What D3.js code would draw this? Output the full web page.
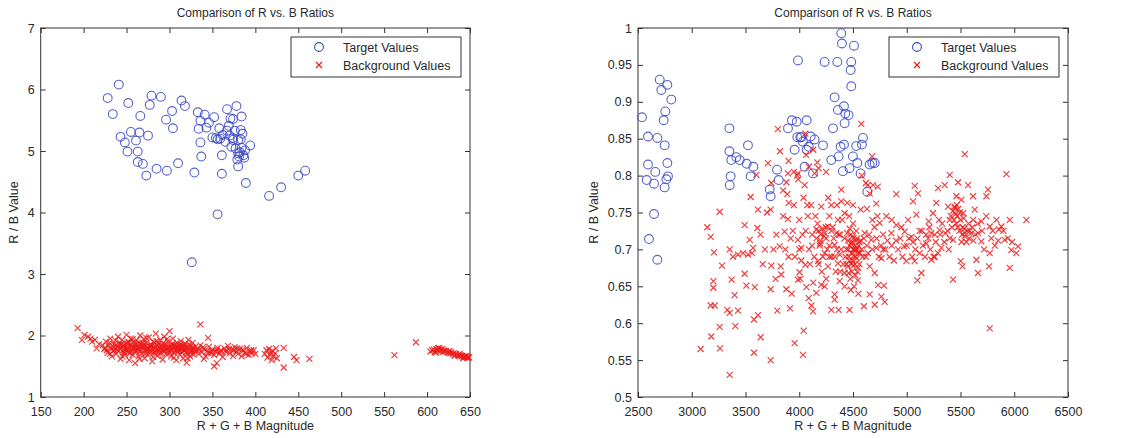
<!DOCTYPE html>
<html><head><meta charset="utf-8">
<script src="https://cdn.jsdelivr.net/npm/d3@7"></script>
<style>body{margin:0;background:#fff} text{font-family:"Liberation Sans",Arial,sans-serif}</style>
</head><body><svg id="c" width="1136" height="438"></svg>
<script>
const titleText = "Comparison of R vs. B Ratios";
const xLabelText = "R + G + B Magnitude";
const yLabelText = "R / B Value";
const legendLabels = ["Target Values", "Background Values"];

const leftXTicks = [150,200,250,300,350,400,450,500,550,600,650];
const leftYTicks = [1,2,3,4,5,6,7];
const rightXTicks = [2500,3000,3500,4000,4500,5000,5500,6000,6500];
const rightYTicks = [0.5,0.55,0.6,0.65,0.7,0.75,0.8,0.85,0.9,0.95,1];

const leftTarget = [[241,6.08],[228,5.86],[234,5.60],[252,5.78],[243,5.23],[248,5.14],[251,4.99],[255,5.31],[261,5.17],[265,5.30],[266,5.57],[263,4.99],[263,4.82],[269,4.79],[273,4.60],[275,5.25],[277,5.75],[279,5.90],[290,5.88],[285,4.71],[297,4.68],[296,5.51],[303,5.65],[304,5.37],[310,4.80],[314,5.82],[318,5.73],[329,4.65],[326,3.19],[333,5.63],[334,5.36],[336,5.49],[336,5.14],[337,4.91],[341,5.59],[343,5.38],[346,5.46],[352,5.55],[350,5.22],[356,3.97],[356,5.19],[358,5.37],[361,4.93],[361,4.63],[362,5.26],[365,5.15],[367,5.33],[369,5.41],[370,5.25],[372,5.07],[367,5.68],[374,5.52],[376,5.33],[378,5.73],[374,5.18],[377,5.04],[380,4.96],[379,4.86],[380,4.75],[383,5.34],[383,5.19],[384,5.05],[381,4.91],[384,5.56],[388,5.01],[389,4.48],[394,5.09],[416,4.27],[430,4.41],[450,4.60],[458,4.68],[371,5.53],[354,5.21],[359,5.20],[374,5.21],[380,5.18],[386,4.93],[385,5.28],[382,4.98],[387,4.89]];

const leftBackground = [[193,2.12],[201,2.01],[198,1.93],[205,1.98],[210,1.90],[213,1.93],[215,1.79],[218,1.86],[208,1.95],[336,2.18],[345,1.96],[352,1.50],[433,1.48],[433,1.80],[445,1.65],[448,1.60],[463,1.62],[562,1.68],[587,1.89],[355,1.55],[340,1.62],[400,1.70],[398,1.76],
[222,1.84],[224,1.78],[226,1.90],[228,1.72],[229,1.83],[231,1.95],[232,1.80],[233,1.66],[235,1.86],[236,1.76],[237,1.92],[238,1.70],[239,1.82],[240,1.98],[241,1.75],[242,1.88],[243,1.62],[244,1.80],[245,1.93],[246,1.73],[247,1.85],[248,1.68],[249,1.79],[250,2.01],[251,1.87],[252,1.74],[253,1.60],[254,1.83],[255,1.95],[256,1.77],[257,1.69],[258,1.89],[259,1.81],[260,1.55],[261,1.73],[262,1.92],[263,1.84],[264,1.66],[265,1.78],[266,2.00],[267,1.86],[268,1.71],[269,1.80],[270,1.94],[271,1.63],[272,1.76],[273,1.88],[274,1.82],[275,1.69],[276,1.97],[277,1.74],[278,1.85],[279,1.79],[280,1.58],[281,1.90],[282,1.72],[283,1.83],[284,2.03],[285,1.77],[286,1.67],[287,1.87],[288,1.80],[289,1.93],[290,1.73],[291,1.84],[292,1.61],[293,1.76],[294,1.98],[295,1.86],[296,1.70],[297,1.81],[298,1.90],[299,1.75],[300,2.07],[301,1.83],[302,1.66],[303,1.79],[304,1.95],[305,1.72],[306,1.85],[307,1.77],[308,1.60],[309,1.88],[310,1.74],[311,1.82],[312,1.69],[313,1.91],[314,1.78],[315,1.84],[316,1.63],[317,1.75],[318,1.87],[319,1.80],[320,1.56],[321,1.71],[322,1.93],[323,1.79],[324,1.66],[325,1.83],[326,1.74],[327,1.88],[328,1.69],[330,1.81],[332,1.76],[334,1.70],[336,1.84],[338,1.73],[340,1.78],[342,1.66],[344,1.75],[346,1.82],[348,1.71],[350,1.77],[352,1.68],[354,1.74],[356,1.80],[358,1.70],[360,1.76],[362,1.65],[364,1.79],[366,1.73],[368,1.83],[370,1.71],[372,1.77],[374,1.67],[376,1.81],[378,1.74],[380,1.70],[382,1.78],[384,1.66],[386,1.75],[388,1.72],[390,1.80],[392,1.68],[394,1.74],[396,1.71],
[225,1.80],[230,1.88],[234,1.75],[238,1.85],[242,1.79],[246,1.83],[250,1.76],[254,1.71],[258,1.78],[262,1.80],[266,1.74],[270,1.85],[274,1.76],[278,1.81],[282,1.79],[286,1.83],[290,1.78],[294,1.74],[298,1.79],[302,1.77],[306,1.80],[310,1.78],[314,1.73],[318,1.76],[322,1.80],[326,1.77],[329,1.74],[333,1.79],
[244,1.86],[252,1.90],[260,1.86],[268,1.83],[276,1.78],[284,1.74],[292,1.86],[300,1.80],[308,1.75],[316,1.79],[324,1.72],
[248,1.72],[256,1.82],[264,1.88],[272,1.70],[280,1.84],[288,1.75],[296,1.77],[304,1.84],[312,1.80],[320,1.82],[328,1.78],
[227,1.76],[231,1.70],[235,1.81],[239,1.77],[243,1.85],[247,1.78],[251,1.81],[255,1.74],[259,1.84],[263,1.77],[267,1.80],[271,1.82],[275,1.79],[279,1.74],[283,1.88],[287,1.78],[291,1.80],[295,1.82],[299,1.71],[303,1.86],[307,1.82],[311,1.76],[315,1.81],[319,1.72],[323,1.85],[327,1.81],[257,1.94],[265,1.62],[273,1.96],[281,1.65],[289,1.70],[297,1.94],[305,1.64],[313,1.86],[321,1.63],[245,1.66],[253,1.88],[261,1.76],[269,1.88],[277,1.82],[285,1.91],[293,1.81],[301,1.73],[309,1.82],[317,1.83],[325,1.76],[335,1.77],[345,1.72],[355,1.77],[365,1.75],[375,1.76],[385,1.77],[395,1.76],[339,1.81],[349,1.74],[359,1.73],[369,1.78],[379,1.79],[389,1.70],
[411,1.70],[413,1.76],[414,1.64],[416,1.78],[417,1.68],[418,1.73],[419,1.60],[420,1.75],[421,1.66],[423,1.71],[424,1.79],[425,1.63],
[604,1.74],[606,1.76],[608,1.77],[609,1.74],[611,1.78],[612,1.76],[613,1.79],[615,1.77],[616,1.75],[617,1.78],[619,1.76],[620,1.74],[622,1.75],[624,1.73],[625,1.72],[627,1.71],[628,1.73],[630,1.70],[631,1.71],[633,1.69],[634,1.70],[636,1.68],[637,1.67],[639,1.68],[640,1.66],[641,1.67],[643,1.65],[644,1.66],[645,1.65],[647,1.64],[648,1.65],[649,1.64],[610,1.72],[614,1.80],[618,1.73],[626,1.75],[632,1.67],[638,1.70],[642,1.63],[646,1.67]];

const rightTarget = [[2537,0.879],[2593,0.853],[2680,0.851],[2593,0.815],[2581,0.794],[2661,0.805],[2649,0.789],[2649,0.748],[2602,0.714],[2680,0.686],[2702,0.930],[2717,0.916],[2773,0.923],[2810,0.903],[2754,0.887],[2739,0.875],[2748,0.841],[2773,0.817],[2779,0.799],[2764,0.795],[2748,0.784],[3350,0.864],[3350,0.833],[3368,0.821],[3362,0.799],[3353,0.787],[3415,0.825],[3446,0.821],[3511,0.816],[3523,0.841],[3573,0.812],[3548,0.799],[3725,0.781],[3734,0.772],[3793,0.808],[3809,0.794],[3895,0.864],[3932,0.875],[3988,0.956],[3976,0.873],[4069,0.875],[3982,0.852],[4019,0.852],[4034,0.846],[3957,0.835],[4069,0.835],[4050,0.812],[4106,0.853],[4143,0.849],[4128,0.803],[4221,0.841],[4236,0.954],[4298,0.821],[4314,0.864],[4329,0.906],[4354,0.954],[4391,0.993],[4397,0.979],[4484,0.954],[4509,0.976],[4478,0.943],[4484,0.921],[4360,0.889],[4416,0.894],[4428,0.884],[4459,0.882],[4422,0.871],[4385,0.839],[4416,0.842],[4366,0.826],[4406,0.806],[4468,0.810],[4499,0.826],[4530,0.840],[4540,0.817],[4571,0.803],[4583,0.842],[4593,0.851],[4633,0.778],[4655,0.815],[4680,0.817],[4702,0.817],[4088,0.839],[4010,0.852]];

const rightBackground = [[3145,0.730],[3176,0.717],[3207,0.696],[3260,0.751],[3282,0.678],[3201,0.657],[3201,0.648],[3176,0.624],[3213,0.624],[3260,0.595],[3182,0.582],[3263,0.566],[3083,0.565],[3353,0.530],[3353,0.614],[3331,0.618],[3371,0.659],[3399,0.638],[3405,0.596],[3430,0.617],[3353,0.700],[3384,0.690],[3430,0.693],[3477,0.695],[3523,0.693],[3560,0.695],[3492,0.667],[3508,0.651],[3492,0.733],[3539,0.713],[3570,0.702],[3548,0.771],[3601,0.801],[3610,0.729],[3586,0.649],[3616,0.611],[3579,0.605],[3579,0.560],[3641,0.581],[3616,0.754],[3709,0.817],[3740,0.790],[3734,0.754],[3740,0.678],[3734,0.646],[3734,0.550],[3802,0.863],[3821,0.833],[3787,0.720],[3818,0.704],[3827,0.677],[3833,0.666],[3796,0.617],[3880,0.791],[3889,0.775],[3902,0.763],[3895,0.741],[3864,0.724],[3880,0.646],[3914,0.620],[3957,0.573],[4035,0.557],[4041,0.590],[3988,0.713],[4019,0.702],[4019,0.685],[4003,0.669],[4057,0.679],[3988,0.659],[4066,0.649],[4088,0.634],[4113,0.624],[4128,0.616],[4075,0.760],[4050,0.787],[4063,0.828],[4057,0.857],[3988,0.803],[3895,0.803],[4143,0.803],[4168,0.818],[4205,0.758],[4159,0.727],[4199,0.720],[4236,0.722],[4267,0.731],[4193,0.708],[4236,0.695],[4174,0.684],[4267,0.677],[4205,0.652],[4159,0.641],[4236,0.650],[4329,0.632],[4298,0.618],[4366,0.618],[4329,0.639],[4468,0.618],[4391,0.781],[4391,0.765],[4422,0.749],[4447,0.763],[4298,0.760],[4360,0.740],[4345,0.722],[4329,0.706],[4376,0.693],[4360,0.681],[4422,0.668],[4376,0.657],[4422,0.650],[4453,0.677],[4577,0.870],[4499,0.760],[4571,0.754],[4639,0.787],[4655,0.776],[4686,0.787],[4717,0.762],[4727,0.745],[4748,0.736],[4677,0.826],[4608,0.722],[4670,0.713],[4717,0.702],[4639,0.695],[4764,0.688],[4655,0.677],[4702,0.668],[4733,0.652],[4789,0.651],[4764,0.636],[4655,0.639],[4602,0.623],[4702,0.625],[4795,0.629],[4810,0.745],[4857,0.722],[4903,0.733],[4903,0.775],[4975,0.704],[4981,0.724],[5012,0.740],[5058,0.765],[5074,0.786],[5105,0.776],[5089,0.747],[5043,0.717],[4996,0.684],[5074,0.684],[5120,0.695],[5136,0.668],[5099,0.658],[5182,0.708],[5204,0.738],[5244,0.749],[5229,0.722],[5275,0.763],[5291,0.783],[5306,0.726],[5260,0.690],[5322,0.702],[5229,0.686],[5353,0.787],[5400,0.801],[5384,0.758],[5400,0.740],[5431,0.713],[5446,0.756],[5462,0.772],[5477,0.791],[5540,0.829],[5508,0.767],[5524,0.749],[5539,0.722],[5502,0.684],[5431,0.659],[5518,0.677],[5570,0.787],[5617,0.772],[5617,0.740],[5663,0.722],[5632,0.754],[5648,0.686],[5663,0.668],[5756,0.781],[5741,0.772],[5772,0.731],[5787,0.715],[5772,0.695],[5766,0.677],[5772,0.593],[5834,0.740],[5880,0.731],[5911,0.713],[5927,0.802],[5958,0.740],[5973,0.699],[6020,0.695],[5958,0.675],[6035,0.704],[6113,0.740],[5856,0.727],[5694,0.738],[5694,0.711],
[4440,0.700],[4455,0.712],[4462,0.690],[4470,0.705],[4478,0.720],[4485,0.695],[4490,0.710],[4495,0.685],[4500,0.700],[4505,0.715],[4510,0.692],[4515,0.705],[4520,0.680],[4525,0.698],[4530,0.712],[4535,0.688],[4540,0.702],[4548,0.675],[4555,0.695],[4560,0.710],[4470,0.728],[4500,0.735],[4530,0.725],[4490,0.670],[4520,0.665],[4545,0.658],[4475,0.660],[4560,0.680],[4440,0.680],[4420,0.715],[4580,0.700],[4590,0.690],[4600,0.715],[4465,0.745],[4510,0.650],[4550,0.640],[4480,0.645],
[4430,0.690],[4445,0.722],[4458,0.700],[4468,0.685],[4482,0.708],[4497,0.718],[4508,0.700],[4518,0.690],[4528,0.700],[4538,0.715],[4552,0.705],[4565,0.695],[4575,0.712],[4488,0.680],[4503,0.678],[4460,0.668],[4540,0.670],
[4160,0.715],[4180,0.725],[4200,0.712],[4215,0.728],[4230,0.718],[4190,0.705],[4245,0.730],[4170,0.735],
[5430,0.752],[5445,0.758],[5455,0.748],[5465,0.760],[5470,0.745],[5480,0.755],[5500,0.740],[5520,0.730],[5540,0.718],[5560,0.725],[5580,0.715],[5600,0.722],[5620,0.712],[5490,0.725],[5510,0.710],[5530,0.742],[5575,0.735],[5420,0.730],[5400,0.715],[5380,0.725],
[5440,0.740],[5460,0.735],[5475,0.730],[5495,0.750],[5515,0.720],[5535,0.728],[5555,0.710],[5585,0.725],[5610,0.730],[5640,0.720],[5660,0.735],[5410,0.745],[5390,0.700],[5360,0.722],[5700,0.725],[5720,0.700],[5740,0.745],[5800,0.725],[5820,0.705],[5850,0.712],[5900,0.725],[5940,0.715],[5980,0.710],
[5150,0.705],[5170,0.690],[5200,0.715],[5220,0.700],[5250,0.690],[5270,0.710],[5290,0.695],[5310,0.720],[5330,0.735],[5350,0.710],[5120,0.725],[5080,0.700],[5050,0.690],[5000,0.705],[4960,0.690],[4940,0.715],[4920,0.700],[4880,0.685],[4860,0.705],[4840,0.690],[4820,0.712],[4800,0.700],[4780,0.720],[4760,0.705],[4740,0.690],[4700,0.730],[4680,0.700],[4650,0.720],[4620,0.690],
[5020,0.715],[5060,0.710],[5100,0.715],[5140,0.725],[5180,0.720],[5210,0.730],[5260,0.720],[5300,0.740],[4900,0.712],[4950,0.730],[4860,0.740],[4780,0.700],[4720,0.715],[4680,0.740],[4630,0.705],
[3850,0.745],[3870,0.700],[3920,0.715],[3950,0.760],[3960,0.690],[3980,0.800],[4000,0.740],[4010,0.660],[4030,0.720],[4040,0.770],[4080,0.745],[4090,0.700],[4100,0.680],[4110,0.760],[4120,0.720],[4130,0.655],[4140,0.690],[4150,0.745],[4180,0.680],[4210,0.670],[4250,0.660],[4260,0.700],[4280,0.745],[4300,0.690],[4310,0.730],[4340,0.670],[4350,0.760],[4370,0.720],[4390,0.700],[4400,0.740],[4410,0.680],[3930,0.640],[3760,0.700],[3780,0.660],[3700,0.750],[3680,0.700],[3660,0.680],[3640,0.720],
[4250,0.715],[4280,0.705],[4320,0.715],[4350,0.700],[4380,0.720],[4300,0.725],[4330,0.690],[4380,0.670],[4280,0.690],[4220,0.690],[4120,0.705],[4060,0.725],[4000,0.700],[3940,0.725],[3900,0.690],
[3950,0.805],[3990,0.795],[4090,0.812],[4180,0.810],[4250,0.805],[4130,0.835],[4270,0.770],[3850,0.780],[3900,0.820],[4580,0.800],[4630,0.755],[4730,0.785],[4620,0.790]];

const svg = d3.select("#c");
const axisColor = "#333";
const blue = "#3a48c4";
const red = "#ee1a1a";

function panel(opt) {
  const g = svg.append("g");
  const x = d3.scaleLinear().domain(opt.xDomain).range([opt.left, opt.right]);
  const y = d3.scaleLinear().domain(opt.yDomain).range([opt.bottom, opt.top]);
  const fmt = d => String(+d.toFixed(2));
  const tk = 5;

  const styleAxis = sel => {
    sel.select(".domain").remove();
    sel.selectAll("line").attr("stroke", axisColor);
    sel.selectAll("text").attr("fill", "#2a2a2a").style("font-size", "12.5px");
  };
  g.append("g").attr("transform", `translate(0,${opt.bottom})`)
    .call(d3.axisBottom(x).tickValues(opt.xTicks).tickFormat(fmt).tickSize(-tk).tickPadding(10))
    .call(styleAxis);
  g.append("g").attr("transform", `translate(0,${opt.top})`)
    .call(d3.axisTop(x).tickValues(opt.xTicks).tickFormat("").tickSize(-tk))
    .call(styleAxis);
  g.append("g").attr("transform", `translate(${opt.left},0)`)
    .call(d3.axisLeft(y).tickValues(opt.yTicks).tickFormat(fmt).tickSize(-tk).tickPadding(6))
    .call(styleAxis);
  g.append("g").attr("transform", `translate(${opt.right},0)`)
    .call(d3.axisRight(y).tickValues(opt.yTicks).tickFormat("").tickSize(-tk))
    .call(styleAxis);

  g.append("rect").attr("x", opt.left).attr("y", opt.top)
    .attr("width", opt.right - opt.left).attr("height", opt.bottom - opt.top)
    .attr("fill", "none").attr("stroke", axisColor).attr("stroke-width", 1);

  const clipId = "clip" + opt.id;
  svg.append("clipPath").attr("id", clipId).append("rect")
    .attr("x", opt.left - 5).attr("y", opt.top - 5)
    .attr("width", opt.right - opt.left + 10).attr("height", opt.bottom - opt.top + 10);
  const pts = g.append("g").attr("clip-path", `url(#${clipId})`);

  pts.selectAll("circle").data(opt.target).join("circle")
    .attr("cx", d => x(d[0])).attr("cy", d => y(d[1])).attr("r", 4.4)
    .attr("fill", "none").attr("stroke", blue).attr("stroke-width", 1.1).attr("stroke-opacity", 0.85);

  const s = 3;
  pts.selectAll("path.x").data(opt.background).join("path").attr("class", "x")
    .attr("d", d => { const cx = x(d[0]), cy = y(d[1]);
      return `M${cx-s},${cy-s}L${cx+s},${cy+s}M${cx-s},${cy+s}L${cx+s},${cy-s}`; })
    .attr("stroke", red).attr("stroke-width", 1.15).attr("stroke-opacity", 0.85).attr("fill", "none");

  const cxm = (opt.left + opt.right) / 2;
  g.append("text").attr("x", cxm).attr("y", 17).attr("text-anchor", "middle")
    .style("font-size", "12px").attr("fill", "#2a2a2a").text(titleText);
  g.append("text").attr("x", cxm).attr("y", 430).attr("text-anchor", "middle")
    .style("font-size", "12.5px").attr("fill", "#2a2a2a").text(xLabelText);
  g.append("text").attr("transform", `translate(${opt.yLabelX},${(opt.top+opt.bottom)/2}) rotate(-90)`)
    .attr("text-anchor", "middle").style("font-size", "12.5px").attr("fill", "#2a2a2a").text(yLabelText);

  const lg = g.append("g");
  lg.append("rect").attr("x", opt.legX).attr("y", 37).attr("width", 170).attr("height", 40)
    .attr("fill", "#fff").attr("stroke", axisColor).attr("stroke-width", 1);
  const mx = opt.legX + 28;
  lg.append("circle").attr("cx", mx).attr("cy", 47).attr("r", 4.4)
    .attr("fill", "none").attr("stroke", blue).attr("stroke-width", 1.1);
  lg.append("path").attr("d", `M${mx-s},${65-s}L${mx+s},${65+s}M${mx-s},${65+s}L${mx+s},${65-s}`)
    .attr("stroke", red).attr("stroke-width", 1.15);
  legendLabels.forEach((t, i) => {
    lg.append("text").attr("x", opt.legX + 52).attr("y", 51.5 + i * 18)
      .style("font-size", "12.5px").attr("fill", "#2a2a2a").text(t);
  });
}

panel({id: "L", xDomain: [150, 650], yDomain: [1, 7], left: 40.7, right: 470, top: 28, bottom: 397,
  xTicks: leftXTicks, yTicks: leftYTicks, target: leftTarget, background: leftBackground, yLabelX: 18, legX: 291});
panel({id: "R", xDomain: [2500, 6500], yDomain: [0.5, 1], left: 638, right: 1068, top: 28, bottom: 397,
  xTicks: rightXTicks, yTicks: rightYTicks, target: rightTarget, background: rightBackground, yLabelX: 598, legX: 889});
</script></body></html>
